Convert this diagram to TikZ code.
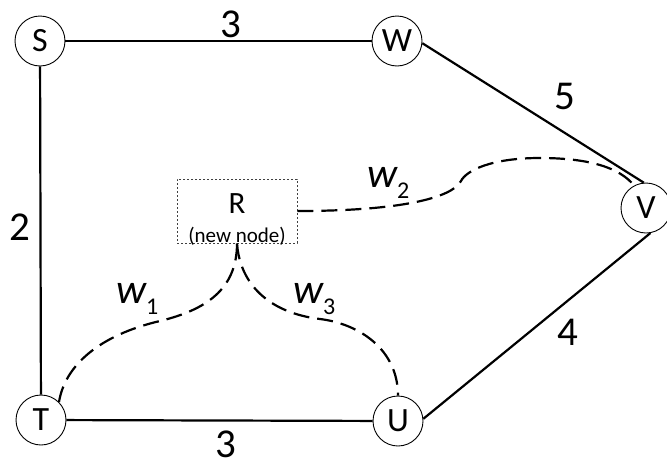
\documentclass[tikz,border=0pt]{standalone}
\usepackage{fontspec}
\setmainfont{Carlito}
\usetikzlibrary{positioning}
\newcommand{\wlab}[1]{{\fontsize{42}{44}\selectfont\itshape w}\raisebox{-11pt}{\fontsize{24}{26}\selectfont #1}}

\begin{document}
\begin{tikzpicture}[x=1pt,y=-1pt,
  vtx/.style={draw,circle,line width=.9pt,minimum size=50pt,inner sep=0pt,font=\fontsize{34}{36}\selectfont},
  edge/.style={line width=2.2pt},
  link/.style={line width=2.2pt,dash pattern=on 16pt off 8pt},
  wt/.style={inner sep=0pt,font=\fontsize{41}{43}\selectfont}]
\useasboundingbox (0,0) rectangle (667,461);
\node[vtx] (S) at (40,41) {S};
\node[vtx] (W) at (397,41) {W};
\node[vtx] (V) at (646,208) {V};
\node[vtx] (T) at (41,420) {T};
\node[vtx] (U) at (398,421) {U};
\node[draw=black!75,line width=.8pt,dash pattern=on 2pt off 2pt,minimum width=120pt,minimum height=64pt] (R) at (237,211) {};
\node[anchor=base,inner sep=0pt,font=\fontsize{31}{33}\selectfont] (Rname) at (237,213) {R};
\node[anchor=base,inner sep=0pt,font=\fontsize{21}{23}\selectfont] (Rnote) at (237,242) {(new node)};
\draw[edge] (S) -- (W) node[wt,pos=.54,above=2pt]{3};
\draw[edge] (W.-5) -- (V.95) node[wt,pos=.57,xshift=16pt,yshift=26pt]{5};
\draw[edge] (S) -- (T) node[wt,pos=.49,left=9pt]{2};
\draw[edge] (U.5) -- (V.-80) node[wt,pos=.57,xshift=15pt,yshift=-19pt]{4};
\draw[edge] (T) -- (U) node[wt,pos=.52,below=9pt]{3};
\draw[link] (T.45) .. controls (65,365) and (100,335) .. (160,321)
  .. controls (205,310) and (237,290) .. (R.south);
\draw[link] (R.south) .. controls (240,285) and (270,313) .. (320,319)
  .. controls (360,324) and (398,350) .. (U.north);
\draw[link] (R.east) .. controls (400,211) and (452,198) .. (461,181)
  .. controls (466,171) and (490,158) .. (540,158)
  .. controls (590,158) and (620,168) .. (V.118);
\node[anchor=base west,inner sep=0pt] (w1) at (116,303) {\wlab{1}};
\node[anchor=base west,inner sep=0pt] (w3) at (293,303) {\wlab{3}};
\node[anchor=base west,inner sep=0pt] (w2) at (367,187) {\wlab{2}};
\end{tikzpicture}
\end{document}
